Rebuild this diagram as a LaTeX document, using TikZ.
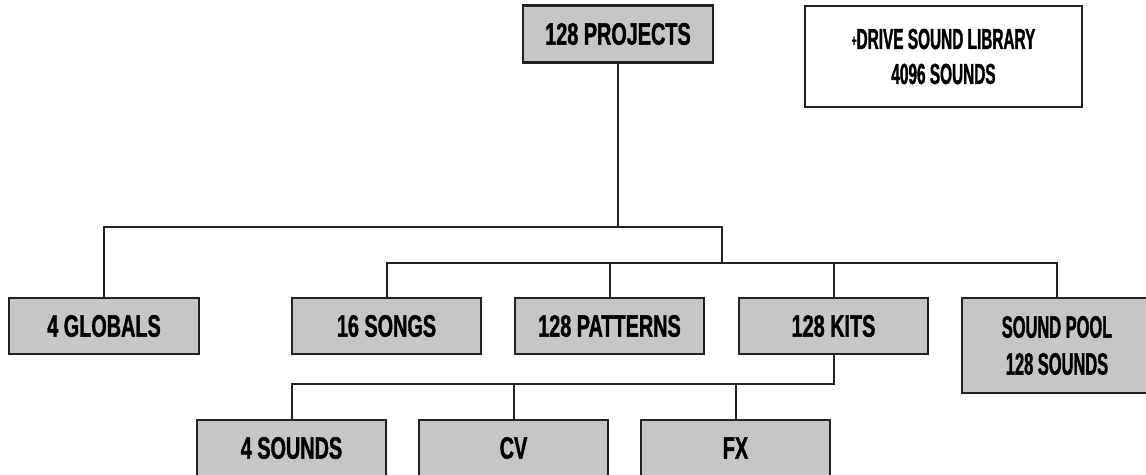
\documentclass[tikz,border=0pt]{standalone}
\usepackage{fontspec}
\usepackage{xcolor}
\usepackage{tikz}
\usetikzlibrary{positioning}
\usetikzlibrary{calc}

\newfontfamily\boxfont[FakeStretch=0.64, FakeBold=1.2]{Liberation Sans}
\newfontfamily\narrowfont[FakeStretch=0.53, FakeBold=1.2]{Liberation Sans}
\definecolor{boxgray}{HTML}{C6C6C6}
\definecolor{edgeblack}{HTML}{222222}

\begin{document}
\begin{tikzpicture}[x=1pt, y=-1pt,
        part/.style={rectangle, draw=edgeblack, line width=2.4pt, fill=boxgray,
            minimum width=189pt, minimum height=56pt, inner sep=0pt,
            font=\boxfont\bfseries\fontsize{31}{36}\selectfont},
        link/.style={draw=edgeblack, line width=2pt}]
        \useasboundingbox (0,0) rectangle (1146,474);

        % top node and side note
        \node[part, minimum width=190pt, minimum height=57pt] (proj) at (618,34) {128 PROJECTS};
        \node[part, fill=white, minimum width=277pt, minimum height=101pt, align=center,
            font=\narrowfont\bfseries\fontsize{29}{35}\selectfont] (drive) at (943.5,56.5)
            {\raisebox{3pt}{\fontsize{16}{16}\selectfont+}DRIVE SOUND LIBRARY\\4096 SOUNDS};

        % middle row
        \node[part, minimum width=190pt] (glob) at (104,326) {4 GLOBALS};
        \node[part] (songs) at (386.5,326) {16 SONGS};
        \node[part] (patt) at (609.5,326) {128 PATTERNS};
        \node[part] (kits) at (833.5,326) {128 KITS};
        \node[part, minimum width=190pt, minimum height=95pt, align=center,
            font=\narrowfont\bfseries\fontsize{31}{37}\selectfont] (pool) at (1057,345.5)
            {SOUND POOL\\128 SOUNDS};

        % bottom row
        \node[part] (snd) at (291.5,448) {4 SOUNDS};
        \node[part] (cv) at (513.5,448) {CV};
        \node[part] (fx) at (735.5,448) {FX};

        % junctions
        \coordinate (top) at (722,227);
        \coordinate (mid) at (722,263);
        \coordinate (low) at (0,384);

        % connectors
        \draw[link] (proj.south) -- (proj.south |- top);
        \draw[link] (glob.north) |- (top) -- (mid);
        \draw[link] (songs.north) |- (mid) -| (pool.north);
        \draw[link] (patt.north) -- (patt.north |- mid);
        \draw[link] (kits.north) -- (kits.north |- mid);
        \draw[link] (kits.south) |- (snd.north |- low) -- (snd.north);
        \draw[link] (cv.north) -- (cv.north |- low);
        \draw[link] (fx.north) -- (fx.north |- low);
    \end{tikzpicture}
\end{document}
